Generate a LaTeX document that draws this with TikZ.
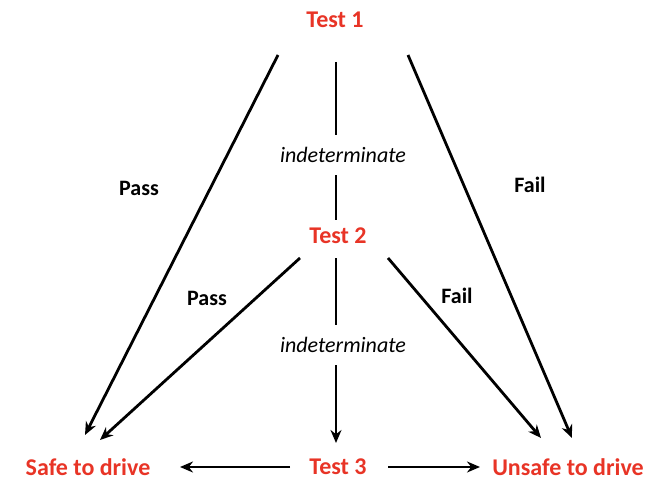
\documentclass[tikz,border=0pt]{standalone}
\usepackage{fontspec}
\setmainfont{Carlito}
\usetikzlibrary{arrows.meta}
\definecolor{testred}{RGB}{232,52,38}
\begin{document}
\begin{tikzpicture}[x=1pt,y=-1pt,>={Stealth[length=13pt,width=11pt]}]
  \tikzset{
    test/.style={font=\fontsize{24}{24}\selectfont\bfseries,text=testred,inner sep=2pt},
    lbl/.style={font=\fontsize{22}{22}\selectfont\bfseries,inner sep=2pt},
    ind/.style={font=\fontsize{22}{22}\selectfont\itshape,inner sep=2pt,minimum height=40pt},
    link/.style={line width=2.8pt}
  }
  \useasboundingbox (0,0) rectangle (658,484);

  \node[test] (t1) at (335,20) {Test 1};
  \node[test] (t2) at (338,236) {Test 2};
  \node[test] (t3) at (338,467) {Test 3};
  \node[test] (safe) at (88,467) {Safe to drive};
  \node[test] (unsafe) at (568,467) {Unsafe to drive};

  \node[ind] (i1) at (343,155) {indeterminate};
  \node[ind] (i2) at (343,345) {indeterminate};
  \node[lbl] (p1) at (139,188) {Pass};
  \node[lbl] (f1) at (530,185) {Fail};
  \node[lbl] (p2) at (207,298) {Pass};
  \node[lbl] (f2) at (457,296) {Fail};

  \coordinate (a1) at (278,55);
  \coordinate (a2) at (408,55);
  \coordinate (b1) at (300,258);
  \coordinate (b2) at (388,258);
  \coordinate (sEnd) at (85,435);
  \coordinate (sEnd2) at (100,440);
  \coordinate (uEnd) at (572,438);
  \coordinate (uEnd2) at (541,438);
  \coordinate (l1) at (290,467);
  \coordinate (l2) at (180,467);
  \coordinate (r1) at (388,467);
  \coordinate (r2) at (480,467);

  \draw[link,->] (a1) -- (sEnd);
  \draw[link,->] (a2) -- (uEnd);
  \draw[link,->] (b1) -- (sEnd2);
  \draw[link,->] (b2) -- (uEnd2);

  \draw[link] (336,62) -- (i1.north -| 336,0);
  \draw[link] (i1.south -| 336,0) -- (336,220);
  \draw[link] (336,258) -- (i2.north -| 336,0);
  \draw[link,->] (i2.south -| 336,0) -- (336,443);

  \draw[link,->] (l1) -- (l2);
  \draw[link,->] (r1) -- (r2);
\end{tikzpicture}
\end{document}
